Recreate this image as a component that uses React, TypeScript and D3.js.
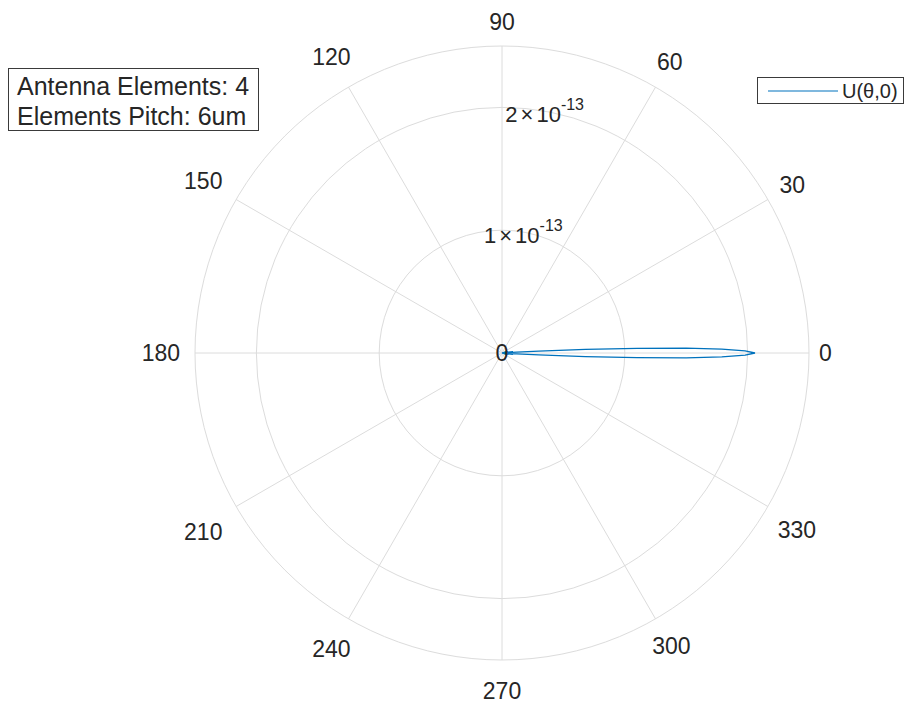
import React from "react";
import * as d3 from "d3";

// Radiation pattern U(θ,0) — angle in degrees, value in units of 1e-13
const thetaDeg = [-180, -25, -16, -12, -9.5, -7.5, -6, -4.8, -4, -3.5, -3, -2.5, -2, -1.5, -1, -0.5, 0, 0.5, 1, 1.5, 2, 2.5, 3, 3.5, 4, 4.8, 6, 7.5, 9.5, 12, 16, 25, 180];
const uValues = [0, 0, 0.03, 0.05, 0.0, 0.09, 0.07, 0.0, 0.05, 0.12, 0.3, 0.68, 1.1, 1.5, 1.79, 1.98, 2.06, 1.98, 1.79, 1.5, 1.1, 0.68, 0.3, 0.12, 0.05, 0.0, 0.07, 0.09, 0.0, 0.05, 0.03, 0, 0];

const angleTicks = [0, 30, 60, 90, 120, 150, 180, 210, 240, 270, 300, 330];
const radialTicks = [0, 1, 2];
const rMax = 2.5;
const annotationLines = ["Antenna Elements: 4", "Elements Pitch: 6um"];
const legendLabel = "U(θ,0)";

const W = 910;
const H = 704;
const cx = 502;
const cy = 353;
const R = 307;
const FONT = "'Liberation Sans', Arial, Helvetica, sans-serif";
const TXT = "#262626";
const GRID = "#dcdcdc";
const BLUE = "#0072BD";

export default function App() {
  const r = d3.scaleLinear().domain([0, rMax]).range([0, R]);
  const toRad = (d: number) => (d * Math.PI) / 180;

  const line = d3
    .lineRadial<number>()
    .angle((_, i) => Math.PI / 2 - toRad(thetaDeg[i]))
    .radius((d) => r(d))
    .curve(d3.curveLinear);

  const pathD = line(uValues) || "";

  const labelFs = 23;
  const labelPos = (deg: number) => {
    const t = String(deg);
    const hw = (t.length * 0.556 * labelFs) / 2;
    const a = toRad(deg);
    const c = Math.cos(a);
    const s = Math.sin(a);
    let rr = R + 10 + hw * Math.abs(c) + 14 * Math.abs(s);
    if (c < -0.1) rr += 5 * Math.abs(c);
    const x = cx + rr * c;
    let y = cy - rr * s;
    if (s < -0.1) y += 7 * Math.abs(Math.sin(3 * a));
    return [x, y];
  };

  const rAxisDeg = 80;

  return (
    <svg
      width={W}
      height={H}
      style={{ position: "absolute", left: 0, top: 0, background: "#fff" }}
      fontFamily={FONT}
    >
      <rect x={0} y={0} width={W} height={H} fill="#fff" />
      {/* spokes */}
      {angleTicks.map((d) => (
        <line
          key={"s" + d}
          x1={cx}
          y1={cy}
          x2={cx + R * Math.cos(toRad(d))}
          y2={cy - R * Math.sin(toRad(d))}
          stroke={GRID}
          strokeWidth={1}
        />
      ))}
      {/* circles */}
      {radialTicks
        .filter((v) => v > 0)
        .map((v) => (
          <circle key={"c" + v} cx={cx} cy={cy} r={r(v)} fill="none" stroke={GRID} strokeWidth={1} />
        ))}
      <circle cx={cx} cy={cy} r={r(rMax)} fill="none" stroke={GRID} strokeWidth={1} />

      {/* angle labels */}
      {angleTicks.map((d) => {
        const [x, y] = labelPos(d);
        return (
          <text
            key={"l" + d}
            x={x}
            y={y}
            fontSize={labelFs}
            fill={TXT}
            textAnchor="middle"
            dominantBaseline="central"
          >
            {d}
          </text>
        );
      })}

      {/* data */}
      <path d={pathD} transform={`translate(${cx},${cy})`} fill="none" stroke={BLUE} strokeWidth={1.3} />

      {/* radial labels */}
      {radialTicks.map((v) => {
        const a = toRad(rAxisDeg);
        const x = cx + r(v) * Math.cos(a);
        const y = cy - r(v) * Math.sin(a);
        if (v === 0) {
          return (
            <text key={"r" + v} x={x} y={y} fontSize={labelFs} fill={TXT} textAnchor="middle" dominantBaseline="central">
              0
            </text>
          );
        }
        return (
          <text key={"r" + v} x={x} y={y + 3} fontSize={22} fill={TXT} textAnchor="middle" dominantBaseline="central">
            <tspan>{v}</tspan>
            <tspan dx={3}>×</tspan>
            <tspan dx={3}>10</tspan>
            <tspan dy={-10} fontSize={16}>-13</tspan>
          </text>
        );
      })}

      {/* annotation box */}
      <rect x={8.5} y={68.5} width={250} height={62} fill="#fff" stroke="#3a3a3a" strokeWidth={1} />
      {annotationLines.map((t, i) => (
        <text key={"a" + i} x={17} y={86 + i * 30} fontSize={25} fill={TXT} dominantBaseline="central">
          {t}
        </text>
      ))}

      {/* legend */}
      <rect x={757.5} y={77.5} width={146} height={26} fill="#fff" stroke="#3a3a3a" strokeWidth={1} />
      <line x1={768} y1={91} x2={838} y2={91} stroke={BLUE} strokeWidth={1.2} />
      <text x={842} y={91} fontSize={20} fill={TXT} dominantBaseline="central">
        {legendLabel}
      </text>
    </svg>
  );
}
